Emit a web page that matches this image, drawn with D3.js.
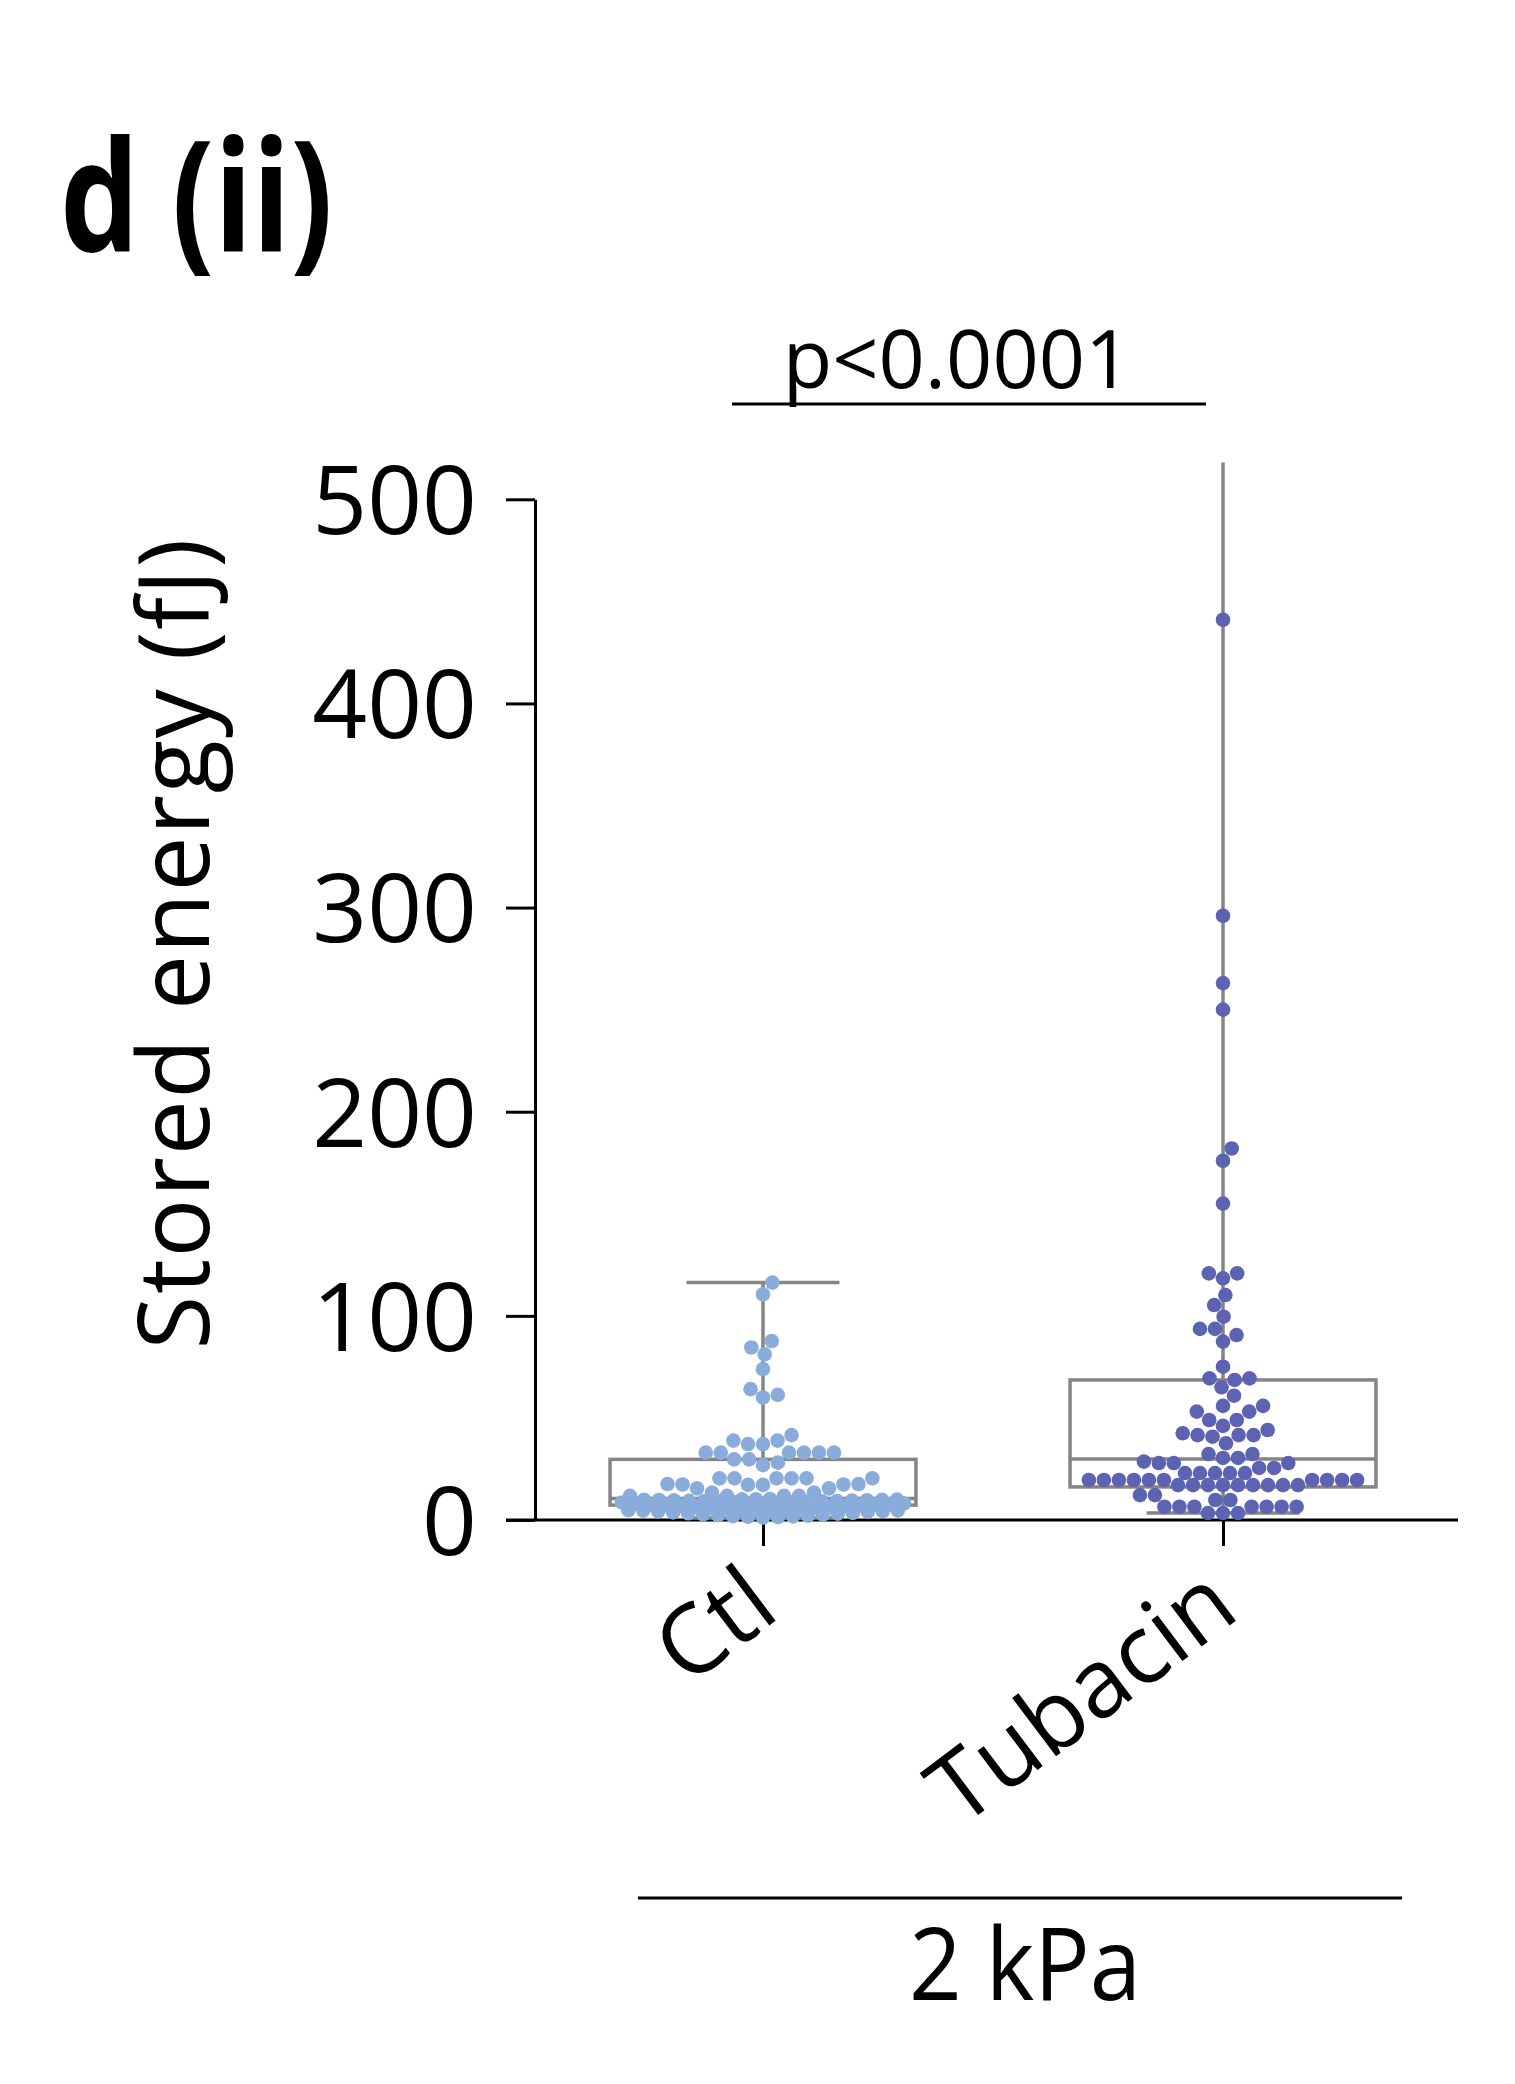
<!DOCTYPE html>
<html>
<head>
<meta charset="utf-8">
<script src="https://cdn.jsdelivr.net/npm/d3@7"></script>
<style>
  body { margin: 0; background: #fff; }
  text { font-family: "Open Sans", "Noto Sans", sans-serif; fill: #000; }
</style>
</head>
<body>
<div id="chart"></div>
<script>
// groups and tick labels
var groups = ["Ctl", "Tubacin"];
var yTicks = [0, 100, 200, 300, 400, 500];

// stored energy (fJ)
var ctlValues = [
  116.3, 110.6, 87.7, 84.5, 81.2, 73.9, 64.1, 61.3, 60,
  41.6, 38.9, 38.9, 37.2, 37.2, 33, 33, 33, 33, 33, 33, 29.7, 29.7, 28.1, 26.9,
  20.4, 20.4, 20.4, 20.4, 20.4, 20.4, 17.2, 17.4, 17.6, 17.2, 17.4, 17.6, 15.5, 15.5, 13.4, 13.4,
  11.8, 11.8, 11.8, 11.8,
  1.2, 1.4, 1.6, 1.9, 2.1, 2.4, 2.6, 3.1, 3.3, 3.7, 4.1, 4.2, 4.7, 5.1, 5.2, 5.8,
  6.1, 6.4, 6.6, 7.1, 7.3, 7.7, 7.9, 8.1, 8.3, 8.6, 8.7, 9.1, 9.2, 9.4, 9.5, 9.7,
  9.8, 9.9, 10.1, 10.2, 9.6, 8.9, 8.4, 7.4, 6.8, 5.5, 4.4, 3.5, 2.8, 1.8,
  9.3, 8.8, 8.2, 7.6, 6.9, 6.3, 5.9, 5.4, 4.9, 4.6, 9.9, 10.3, 10.0, 9.0
];
var tubValues = [
  441, 296, 263, 250, 182, 176, 155, 120.8, 120.8, 118.4, 110.2, 105.3, 99.6, 93.6, 93.6,
  90.6, 87.4, 75.1, 69.4, 69.4, 68.6, 65, 60.9, 55.9, 55.9, 53.1, 53.1, 49, 49, 46.1,
  44.1, 42.5, 41.6, 41.6, 41.6, 40.8, 37.6, 32.3, 32.3, 30.4, 30.4, 28.6, 27.9, 27.9, 27.9,
  25.5, 25.5, 23, 23, 23, 23, 23,
  19.6, 19.6, 19.6, 19.6, 19.6, 19.6, 19.6, 19.6, 19.6, 19.6,
  17.1, 17.1, 17.1, 17.1, 17.1, 17.1, 17.1, 17.1, 17.1,
  12.2, 12.2, 9.8, 9.8, 6.5, 6.5, 6.5, 6.5, 6.5, 6.5, 6.5, 3.4, 3.4, 3.4
];
// box stats: [whisker low, q1, median, q3, whisker high]
var ctlBox = [1, 7.3, 10.5, 29.7, 116.3];
var tubBox = [3.4, 16.2, 29.9, 68.6, 518];

var series = [
  {name: "Ctl", values: ctlValues, box: ctlBox, color: "#89acdb"},
  {name: "Tubacin", values: tubValues, box: tubBox, color: "#5c63b2"}
];

var width = 1515, height = 2084;
var svg = d3.select("#chart").append("svg")
    .attr("width", width)
    .attr("height", height)
    .style("background", "#fff");

var y = d3.scaleLinear().domain([0, 500]).range([1520, 499.3]);
var x = d3.scalePoint().domain(groups).range([533, 1453]).padding(0.5);
var step = x.step();
var boxW = step * 0.665;
var axisLeftX = 535, axisRightX = 1458, tickLen = 29;

// title
svg.append("text")
    .attr("x", 60).attr("y", 252)
    .attr("font-size", 154)
    .attr("font-weight", 700)
    .attr("textLength", 273)
    .attr("lengthAdjust", "spacingAndGlyphs")
    .text("d (ii)");

// y axis
var yAxis = d3.axisLeft(y).tickValues(yTicks).tickSize(tickLen).tickSizeOuter(0).tickPadding(29);
var gy = svg.append("g").attr("transform", "translate(" + axisLeftX + ",0)").call(yAxis);
gy.selectAll("path, line").attr("stroke", "#000").attr("stroke-width", 3);
gy.selectAll("text").attr("font-size", 96).attr("dy", "0.357em")
    .style("font-family", "'Open Sans', sans-serif");

svg.append("text")
    .attr("transform", "translate(209,944) rotate(-90)")
    .attr("text-anchor", "middle")
    .attr("font-size", 98)
    .attr("textLength", 811)
    .attr("lengthAdjust", "spacing")
    .text("Stored energy (fJ)");

// x axis
var xAxis = d3.axisBottom(x).tickSize(26).tickSizeOuter(0).tickFormat("");
var gx = svg.append("g").attr("transform", "translate(0," + y(0) + ")").call(xAxis);
gx.select(".domain").attr("d", "M" + (axisLeftX - tickLen) + ",0H" + axisRightX);
gx.selectAll("path, line").attr("stroke", "#000").attr("stroke-width", 3);

svg.selectAll(".catLabel")
  .data(groups)
  .enter().append("text")
    .attr("class", "catLabel")
    .attr("transform", function(d){ return "translate(" + (x(d) + 19) + ",1616) rotate(-37)"; })
    .attr("text-anchor", "end")
    .attr("font-size", 96)
    .text(function(d){ return d; });

// beeswarm layout, ascending, squeezed inside the column
function swarm(values){
  var D = 15, W = 141;
  var placed = [];
  values.slice().sort(d3.ascending).forEach(function(v){
    var yy = y(v);
    var near = placed.filter(function(p){ return Math.abs(p.y - yy) < D; });
    var cands = [0];
    near.forEach(function(p){
      var dx = Math.sqrt(D * D - (p.y - yy) * (p.y - yy));
      cands.push(p.dx + dx, p.dx - dx);
    });
    cands = cands.filter(function(c){ return Math.abs(c) <= W; })
      .sort(function(a, b){ return Math.abs(a) - Math.abs(b); });
    var best;
    for (var i = 0; i < cands.length; i++) {
      var c = cands[i];
      var ok = near.every(function(p){ return (p.dx - c) * (p.dx - c) + (p.y - yy) * (p.y - yy) >= D * D - 0.01; });
      if (ok) { best = c; break; }
    }
    if (best === undefined) {
      var score = -1;
      for (var c2 = -W; c2 <= W; c2 += 1) {
        var m = d3.min(near, function(p){ return (p.dx - c2) * (p.dx - c2) + (p.y - yy) * (p.y - yy); });
        if (m > score) { score = m; best = c2; }
      }
    }
    placed.push({v: v, y: yy, dx: best});
  });
  return placed;
}

var groupG = svg.selectAll(".group")
  .data(series)
  .enter().append("g")
    .attr("class", "group")
    .attr("transform", function(d){ return "translate(" + x(d.name) + ",0)"; });

var boxColor = "#858585", boxStroke = 3.5;
// whisker
groupG.append("line")
    .attr("x1", 0).attr("x2", 0)
    .attr("y1", function(d){ return y(d.box[0]); })
    .attr("y2", function(d){ return y(d.box[4]); })
    .attr("stroke", boxColor).attr("stroke-width", boxStroke);
// caps
groupG.append("line")
    .attr("x1", -boxW / 4).attr("x2", boxW / 4)
    .attr("y1", function(d){ return y(d.box[0]); })
    .attr("y2", function(d){ return y(d.box[0]); })
    .attr("stroke", boxColor).attr("stroke-width", boxStroke);
groupG.filter(function(d){ return d.box[4] <= y.domain()[1]; }).append("line")
    .attr("x1", -boxW / 4).attr("x2", boxW / 4)
    .attr("y1", function(d){ return y(d.box[4]); })
    .attr("y2", function(d){ return y(d.box[4]); })
    .attr("stroke", boxColor).attr("stroke-width", boxStroke);
// box
groupG.append("rect")
    .attr("x", -boxW / 2)
    .attr("width", boxW)
    .attr("y", function(d){ return y(d.box[3]); })
    .attr("height", function(d){ return y(d.box[1]) - y(d.box[3]); })
    .attr("fill", "#fff")
    .attr("stroke", boxColor).attr("stroke-width", boxStroke);
groupG.append("line")
    .attr("x1", -boxW / 2).attr("x2", boxW / 2)
    .attr("y1", function(d){ return y(d.box[2]); })
    .attr("y2", function(d){ return y(d.box[2]); })
    .attr("stroke", boxColor).attr("stroke-width", boxStroke);

groupG.selectAll(".dot")
  .data(function(d){ return swarm(d.values).map(function(p){ p.color = d.color; return p; }); })
  .enter().append("circle")
    .attr("class", "dot")
    .attr("cx", function(p){ return p.dx; })
    .attr("cy", function(p){ return p.y; })
    .attr("r", 7.3)
    .attr("fill", function(p){ return p.color; });

// significance bar
svg.append("line")
    .attr("x1", 732).attr("x2", 1206)
    .attr("y1", 404).attr("y2", 404)
    .attr("stroke", "#000").attr("stroke-width", 3);
svg.append("text")
    .attr("x", 957).attr("y", 388)
    .attr("text-anchor", "middle")
    .attr("font-size", 81)
    .text("p<0.0001");

// substrate group
svg.append("line")
    .attr("x1", 638).attr("x2", 1402)
    .attr("y1", 1898).attr("y2", 1898)
    .attr("stroke", "#000").attr("stroke-width", 3);
svg.append("text")
    .attr("x", 1025).attr("y", 2000)
    .attr("text-anchor", "middle")
    .attr("font-size", 100)
    .attr("textLength", 232)
    .attr("lengthAdjust", "spacingAndGlyphs")
    .text("2 kPa");
</script>
</body>
</html>
